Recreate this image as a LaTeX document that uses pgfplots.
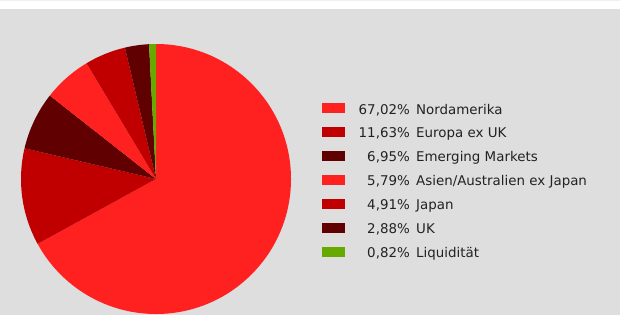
\documentclass[border=0pt]{standalone}
\usepackage{fontspec}
\setmainfont{DejaVu Sans}
\usepackage{pgfplots}
\usepackage{pgfplotstable}
\pgfplotsset{compat=1.18}
\definecolor{bg}{RGB}{222,222,222}
\definecolor{cA}{RGB}{255,32,32}
\definecolor{cB}{RGB}{192,0,0}
\definecolor{cC}{RGB}{96,0,0}
\definecolor{cD}{RGB}{102,170,0}
\definecolor{txt}{RGB}{34,34,34}
\pgfplotstableread[col sep=semicolon]{
val;pct;name;col
67.02;67,02\%;Nordamerika;cA
11.63;11,63\%;Europa ex UK;cB
6.95;6,95\%;Emerging Markets;cC
5.79;5,79\%;Asien/Australien ex Japan;cA
4.91;4,91\%;Japan;cB
2.88;2,88\%;UK;cC
0.82;0,82\%;Liquidität;cD
}\piedata
\begin{document}
\begin{tikzpicture}
\begin{axis}[
  width=620bp, height=315bp, scale only axis,
  xmin=0, xmax=620, ymin=0, ymax=315, y dir=reverse,
  axis lines=none, ticks=none, clip=true,
]
\fill[bg] (axis cs:0,0) rectangle (axis cs:620,315);
\fill[white] (axis cs:0,0) rectangle (axis cs:620,9);
\fill[black!6] (axis cs:0,0) rectangle (axis cs:620,1);
\def\cum{0}
\pgfplotsforeachungrouped \i in {0,...,6}{%
  \pgfplotstablegetelem{\i}{val}\of\piedata \let\v\pgfplotsretval
  \pgfplotstablegetelem{\i}{pct}\of\piedata \let\p\pgfplotsretval
  \pgfplotstablegetelem{\i}{name}\of\piedata \let\n\pgfplotsretval
  \pgfplotstablegetelem{\i}{col}\of\piedata \let\c\pgfplotsretval
  \pgfmathsetmacro\a{90-3.6*\cum}%
  \pgfmathsetmacro\cum{\cum+\v}%
  \pgfmathsetmacro\b{90-3.6*\cum}%
  \pgfmathsetmacro\ty{114+23.95*\i}%
  \pgfmathsetmacro\sy{103+23.95*\i}%
  \pgfmathsetmacro\sz{113+23.95*\i}%
  \edef\cmd{%
    \noexpand\fill[\c] (axis cs:156,179) -- ++(\a:135bp) arc[start angle=\a, end angle=\b, radius=135bp] -- cycle;
    \noexpand\fill[\c] (axis cs:322,\sy) rectangle (axis cs:345,\sz);
    \noexpand\node[anchor=base east, inner sep=0pt, text=txt, font=\noexpand\fontsize{13.4bp}{16bp}\noexpand\selectfont] at (axis cs:410,\ty) {\expandafter\noexpand\p};
    \noexpand\node[anchor=base west, inner sep=0pt, text=txt, font=\noexpand\fontsize{13.4bp}{16bp}\noexpand\selectfont] at (axis cs:416,\ty) {\expandafter\noexpand\n};
  }%
  \cmd
}
\end{axis}
\end{tikzpicture}
\end{document}
